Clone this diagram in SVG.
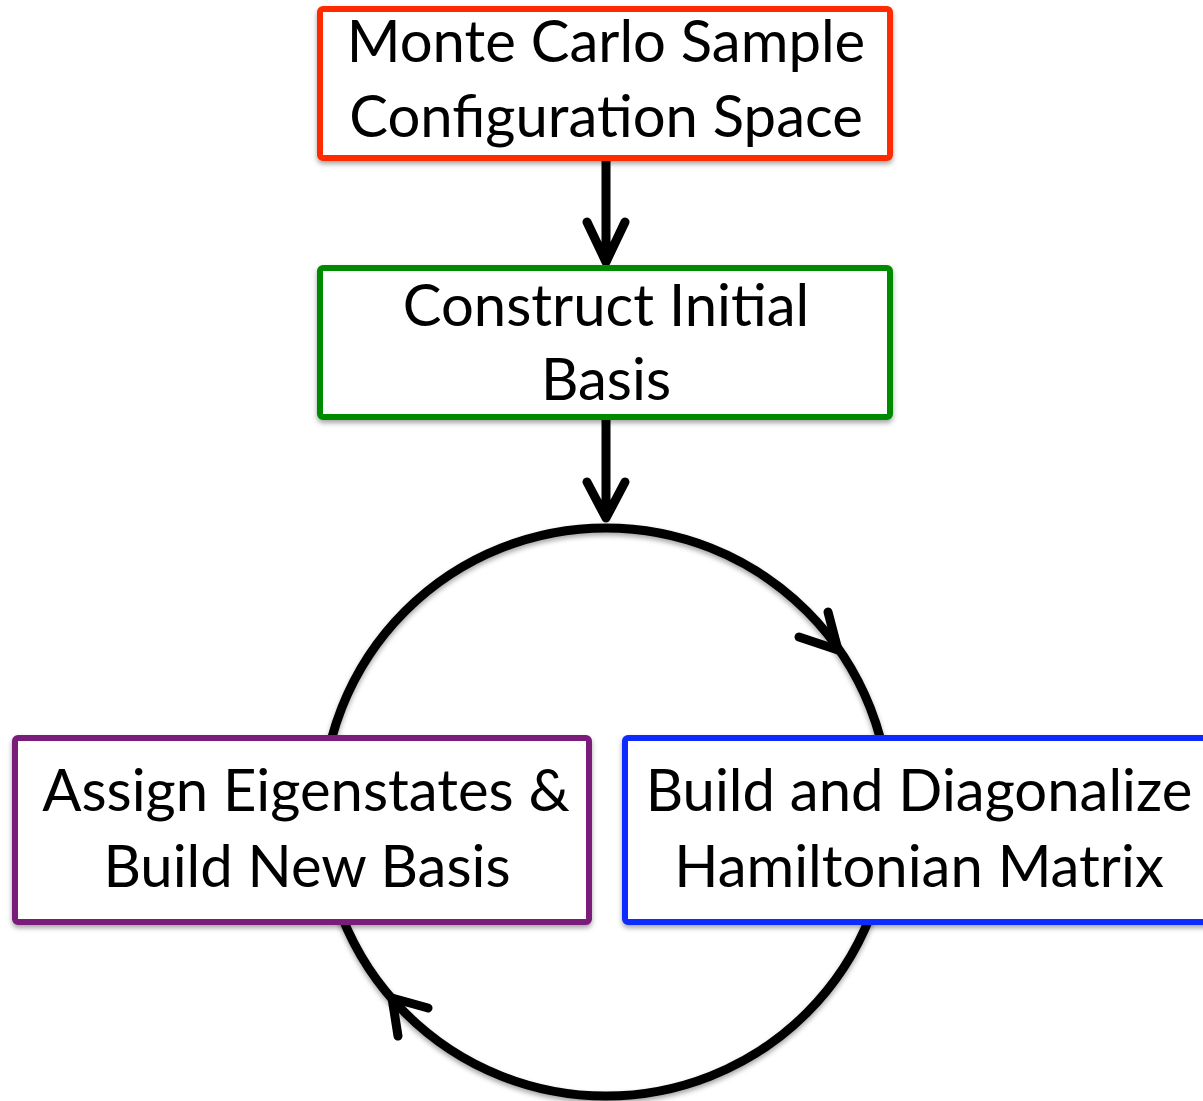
<svg xmlns="http://www.w3.org/2000/svg" width="1203" height="1101" viewBox="0 0 1203 1101">
<defs>
<filter id="sh" x="-10%" y="-10%" width="120%" height="130%">
<feDropShadow dx="0" dy="3" stdDeviation="2.5" flood-color="#000" flood-opacity="0.35"/>
</filter>
<style>
.box{fill:#fff;stroke-width:6;filter:url(#sh)}
.t{font-family:Lato,"Open Sans",sans-serif;font-size:58px;fill:#000;text-anchor:middle}
.ln{fill:none;stroke:#000;stroke-width:9;stroke-linecap:round;stroke-linejoin:round}
</style>
</defs>
<rect width="1203" height="1101" fill="#fff"/>
<g id="connectors">
<circle cx="606" cy="812" r="284" class="ln" style="filter:url(#sh)"/>
<path class="ln" d="M606 158 V262 M587 222 L606 262 L625 222"/>
<path class="ln" d="M606 417 V518 M587 482 L606 518 L625 482"/>
<path class="ln" d="M828 612 L838 650 L799 637"/>
<path class="ln" d="M428 1008 L392 998 L398 1036"/>
</g>
<g id="n1">
<rect class="box" x="320" y="9" width="570" height="149" rx="3" stroke="#ff2a00"/>
<text class="t" x="606" y="62">Monte Carlo Sample</text>
<text class="t" x="606" y="137">Configuration Space</text>
</g>
<g id="n2">
<rect class="box" x="320" y="268" width="570" height="149" rx="3" stroke="#008a00"/>
<text class="t" x="606" y="326">Construct Initial</text>
<text class="t" x="606" y="400">Basis</text>
</g>
<g id="n3">
<rect class="box" x="15" y="738" width="574" height="184" rx="3" stroke="#7a1a7a"/>
<text class="t" x="306" y="811">Assign Eigenstates &amp;</text>
<text class="t" x="307" y="887">Build New Basis</text>
</g>
<g id="n4">
<rect class="box" x="625" y="738" width="600" height="184" rx="3" stroke="#0a2aff"/>
<text class="t" x="919" y="811">Build and Diagonalize</text>
<text class="t" x="919" y="887">Hamiltonian Matrix</text>
</g>
</svg>
